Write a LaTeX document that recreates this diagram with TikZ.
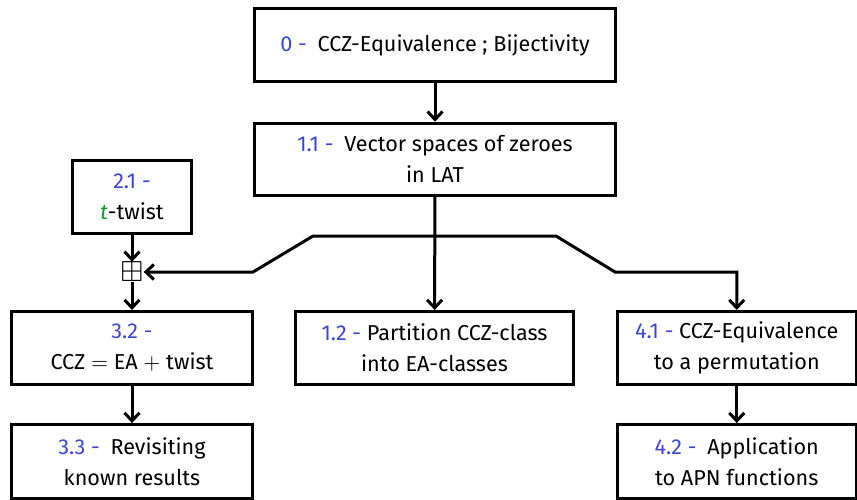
\documentclass[tikz,border=0pt]{standalone}
\usepackage{amssymb}
\usepackage{fontspec}
\setmainfont{Fira Sans}
\usetikzlibrary{arrows.meta}
\definecolor{lblue}{RGB}{60,70,210}
\definecolor{tgreen}{RGB}{20,150,55}
\newcommand{\lab}[1]{\textcolor{lblue}{#1}}
\begin{document}
\begin{tikzpicture}[x=0.5pt,y=-0.5pt,
  box/.style={draw=black,line width=1.5pt,rectangle,align=center,inner sep=0pt,
    font=\fontsize{10.8}{15.5}\selectfont},
  arr/.style={line width=1.5pt,-{Straight Barb[length=4pt,width=7.5pt,line width=1.5pt]}},
  barr/.style={line width=1.5pt,{Straight Barb[length=4pt,width=7.5pt,line width=1.5pt]}-{Straight Barb[length=4pt,width=7.5pt,line width=1.5pt]}},
  line join=miter]
\useasboundingbox (0,0) rectangle (857,499);
\node[box,minimum width=180.8pt,minimum height=36.5pt] (b0) at (435,45.3)
  {\lab{0 -}\enspace CCZ-Equivalence ; Bijectivity};
\node[box,minimum width=180.8pt,minimum height=36pt] (b11) at (435,159.2)
  {\lab{1.1 -}\enspace Vector spaces of zeroes\\in LAT};
\node[box,minimum width=59.5pt,minimum height=36.5pt] (b21) at (132,197)
  {\lab{2.1 -}\\\textcolor{tgreen}{\textit{t}}-twist};
\node[inner sep=0pt,font=\fontsize{14.5}{15}\selectfont] (plus) at (132,272) {$\boxplus$};
\node[box,minimum width=120.5pt,minimum height=36.5pt] (b32) at (132,348)
  {\lab{3.2 -}\\CCZ $=$ EA $+$ twist};
\node[box,minimum width=120.5pt,minimum height=36.75pt] (b33) at (132,461.3)
  {\lab{3.3 -}\enspace Revisiting\\known results};
\node[box,minimum width=139pt,minimum height=36.5pt] (b12) at (434.5,348)
  {\lab{1.2 -} Partition CCZ-class\\into EA-classes};
\node[box,minimum width=119.25pt,minimum height=36.5pt] (b41) at (736.75,348)
  {\lab{4.1 -} CCZ-Equivalence\\to a permutation};
\node[box,minimum width=119.25pt,minimum height=36.75pt] (b42) at (736.75,461.3)
  {\lab{4.2 -}\enspace Application\\to APN functions};
\coordinate (c1) at (615,272);
\coordinate (c2) at (556,236);
\coordinate (c3) at (313,236);
\coordinate (c4) at (253,272);
\draw[arr] (b0) -- (b11);
\draw[arr] (b11) -- (b12);
\draw[arr] (b21) -- (plus);
\draw[arr] (plus) -- (b32);
\draw[arr] (b32) -- (b33);
\draw[arr] (b41) -- (b42);
\draw[barr] (b41.north) |- (c1) -- (c2) -- (c3) -- (c4) -- (plus.east);
\end{tikzpicture}
\end{document}
